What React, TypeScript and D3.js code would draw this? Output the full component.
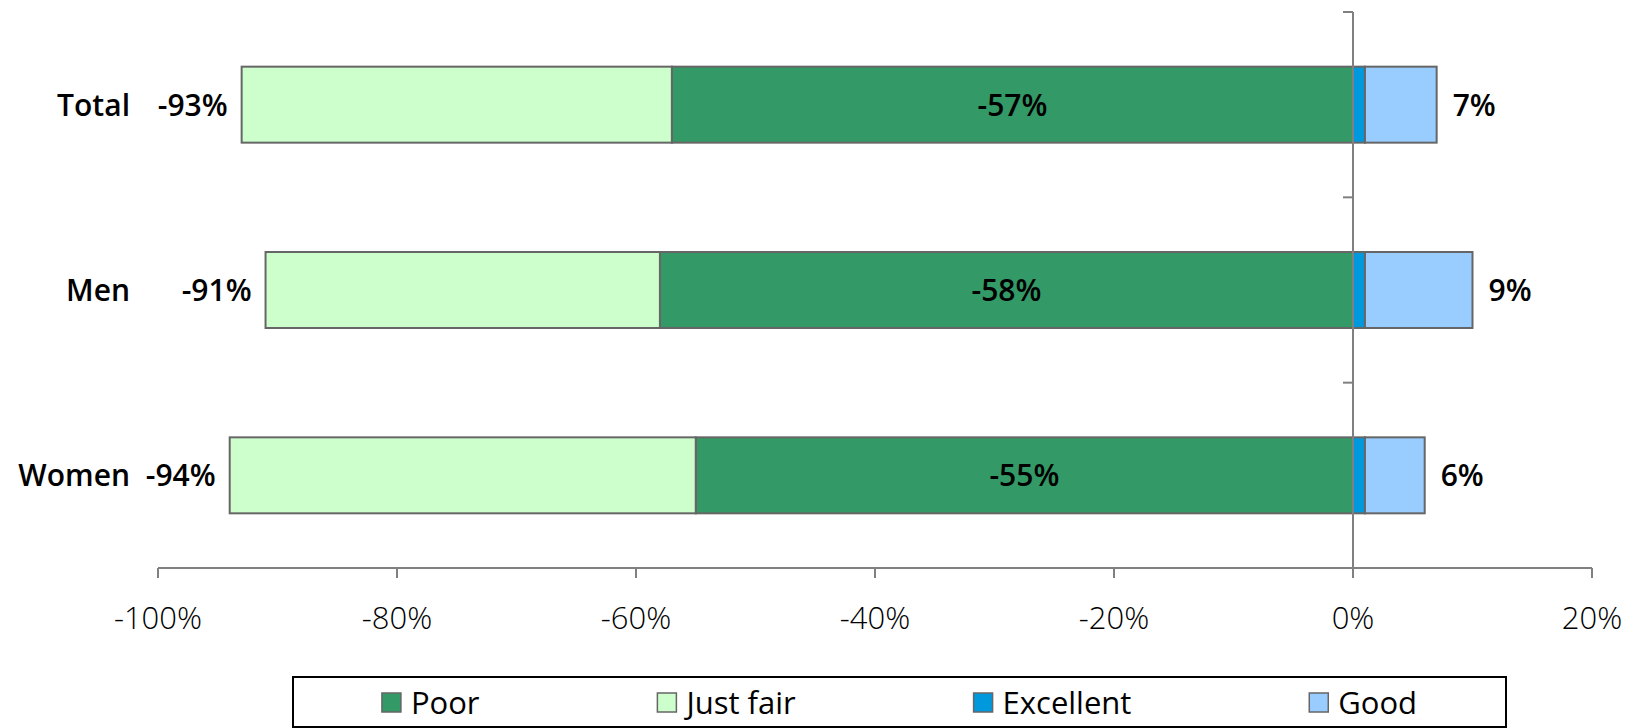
import React, { useEffect, useRef } from "react";
import * as d3 from "d3";

const categories = ["Total", "Men", "Women"];
const poor = [-57, -58, -55];
const justFair = [-36, -33, -39];
const excellent = [1, 1, 1];
const good = [6, 9, 5];
const negativeLabels = ["-93%", "-91%", "-94%"];
const positiveLabels = ["7%", "9%", "6%"];
const poorLabels = ["-57%", "-58%", "-55%"];
const xTicks = [-100, -80, -60, -40, -20, 0, 20];
const legendNames = ["Poor", "Just fair", "Excellent", "Good"];
const legendColors = ["#339966", "#CCFFCC", "#0099DD", "#99CCFF"];

const W = 1626;
const H = 728;
const FONT = "'Open Sans', 'Noto Sans', sans-serif";

export default function App() {
  const ref = useRef<SVGSVGElement | null>(null);

  useEffect(() => {
    const svg = d3.select(ref.current);
    svg.selectAll("*").remove();

    const x = d3.scaleLinear().domain([-100, 20]).range([158, 1592]);
    const y = d3
      .scaleBand()
      .domain(categories)
      .range([12, 568])
      .paddingInner(0.59)
      .paddingOuter(0.295);

    const rows = categories.map((c, i) => ({
      c,
      segs: [
        { from: 0, to: poor[i], color: legendColors[0] },
        { from: poor[i], to: poor[i] + justFair[i], color: legendColors[1] },
        { from: 0, to: excellent[i], color: legendColors[2] },
        { from: excellent[i], to: excellent[i] + good[i], color: legendColors[3] },
      ],
      i,
    }));

    const g = svg.append("g");
    rows.forEach((r) => {
      r.segs.forEach((s) => {
        const x0 = Math.min(x(s.from), x(s.to));
        const x1 = Math.max(x(s.from), x(s.to));
        g.append("rect")
          .attr("x", x0)
          .attr("y", y(r.c)!)
          .attr("width", x1 - x0)
          .attr("height", y.bandwidth())
          .attr("fill", s.color)
          .attr("stroke", "#666666")
          .attr("stroke-width", 2);
      });
    });

    // Axes
    const axisColor = "#808080";
    svg
      .append("line")
      .attr("x1", x(-100))
      .attr("x2", x(20))
      .attr("y1", 568)
      .attr("y2", 568)
      .attr("stroke", axisColor)
      .attr("stroke-width", 2);
    xTicks.forEach((t) => {
      svg
        .append("line")
        .attr("x1", x(t))
        .attr("x2", x(t))
        .attr("y1", 568)
        .attr("y2", 578)
        .attr("stroke", axisColor)
        .attr("stroke-width", 2);
      svg
        .append("text")
        .attr("x", x(t))
        .attr("y", 629)
        .attr("text-anchor", "middle")
        .attr("font-family", FONT)
        .attr("font-weight", 300)
        .attr("font-size", 31)
        .attr("fill", "#000")
        .text(`${t}%`);
    });
    svg
      .append("line")
      .attr("x1", x(0))
      .attr("x2", x(0))
      .attr("y1", 12)
      .attr("y2", 568)
      .attr("stroke", axisColor)
      .attr("stroke-width", 2);
    const bounds = [12, ...categories.map((c) => y(c)! + y.step() * 0.5 + y.bandwidth() / 2 + (y.step() - y.bandwidth()) / 2 - y.step() / 2)];
    const bnds = d3.range(categories.length + 1).map((k) => 12 + (k * (568 - 12)) / categories.length);
    void bounds;
    bnds.forEach((b) => {
      svg
        .append("line")
        .attr("x1", x(0) - 10)
        .attr("x2", x(0))
        .attr("y1", b)
        .attr("y2", b)
        .attr("stroke", axisColor)
        .attr("stroke-width", 2);
    });

    // Labels
    rows.forEach((r) => {
      const cy = y(r.c)! + y.bandwidth() / 2 + 11;
      const total = poor[r.i] + justFair[r.i];
      const pos = excellent[r.i] + good[r.i];
      svg
        .append("text")
        .attr("x", 130)
        .attr("y", cy)
        .attr("text-anchor", "end")
        .attr("font-family", FONT)
        .attr("font-weight", 600)
        .attr("font-size", 30)
        .attr("fill", "#000")
        .text(r.c);
      svg
        .append("text")
        .attr("x", x(total) - 14)
        .attr("y", cy)
        .attr("text-anchor", "end")
        .attr("font-family", FONT)
        .attr("font-weight", 600)
        .attr("font-size", 30)
        .attr("fill", "#000")
        .text(negativeLabels[r.i]);
      svg
        .append("text")
        .attr("x", (x(0) + x(poor[r.i])) / 2)
        .attr("y", cy)
        .attr("text-anchor", "middle")
        .attr("font-family", FONT)
        .attr("font-weight", 600)
        .attr("font-size", 30)
        .attr("fill", "#000")
        .text(poorLabels[r.i]);
      svg
        .append("text")
        .attr("x", x(pos) + 16)
        .attr("y", cy)
        .attr("text-anchor", "start")
        .attr("font-family", FONT)
        .attr("font-weight", 600)
        .attr("font-size", 30)
        .attr("fill", "#000")
        .text(positiveLabels[r.i]);
    });

    // Legend
    const lx0 = 293;
    const lx1 = 1506;
    const ly0 = 677;
    const ly1 = 727;
    svg
      .append("rect")
      .attr("x", lx0)
      .attr("y", ly0)
      .attr("width", lx1 - lx0)
      .attr("height", ly1 - ly0)
      .attr("fill", "#fff")
      .attr("stroke", "#000")
      .attr("stroke-width", 2);
    const items = legendNames.map((n, i) => {
      const gi = svg.append("g");
      gi.append("rect")
        .attr("x", 0)
        .attr("y", 693)
        .attr("width", 19)
        .attr("height", 19)
        .attr("fill", legendColors[i])
        .attr("stroke", "#666666")
        .attr("stroke-width", 1.5);
      const t = gi
        .append("text")
        .attr("x", 29)
        .attr("y", 714)
        .attr("font-family", FONT)
        .attr("font-weight", 500)
        .attr("font-size", 31)
        .attr("fill", "#000")
        .text(n);
      const w = 29 + (t.node() as SVGTextElement).getComputedTextLength();
      return { gi, w };
    });
    const totalW = d3.sum(items, (d) => d.w);
    const gap = (lx1 - lx0 - totalW) / items.length;
    let cx = lx0 + gap / 2;
    items.forEach((it) => {
      it.gi.attr("transform", `translate(${cx},0)`);
      cx += it.w + gap;
    });
  }, []);

  return (
    <svg
      ref={ref}
      width={W}
      height={H}
      style={{ position: "absolute", left: 0, top: 0, display: "block", background: "#fff" }}
    />
  );
}
